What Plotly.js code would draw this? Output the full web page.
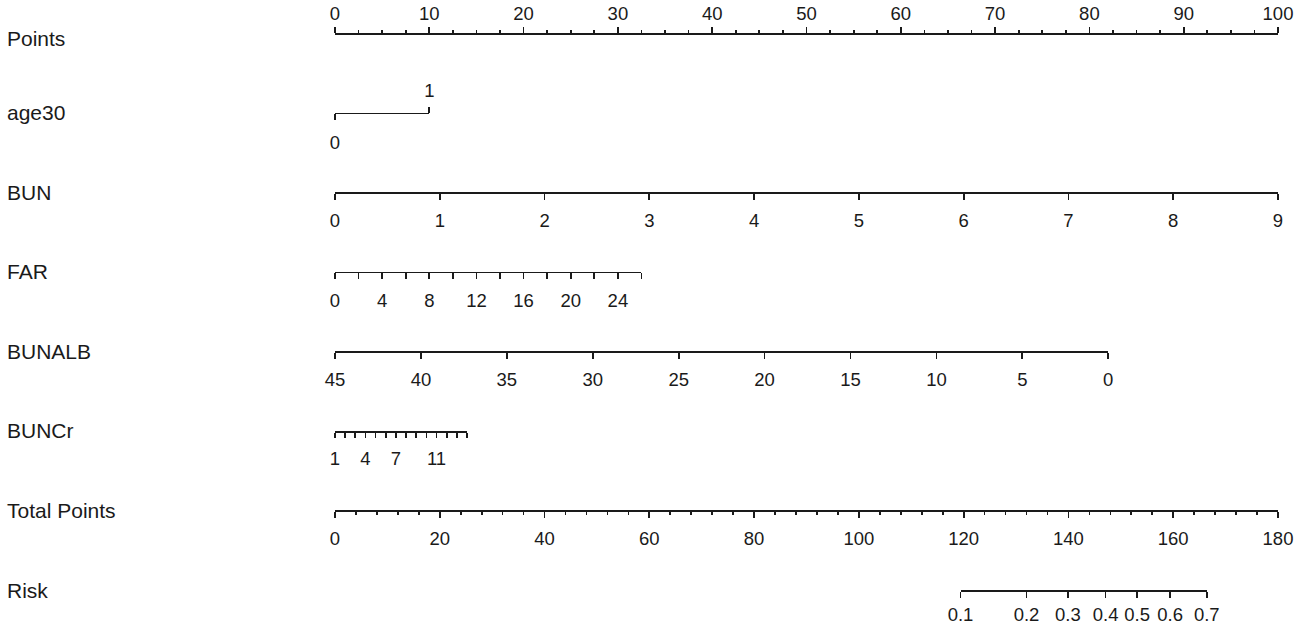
<!DOCTYPE html>
<html>
<head>
<meta charset="utf-8">
<script src="https://cdn.plot.ly/plotly-3.0.1.min.js"></script>
<style>
  html, body { margin: 0; padding: 0; background: #fff; }
  #chart { width: 1299px; height: 627px; }
</style>
</head>
<body>
<div id="chart"></div>
<script>
// row names of the nomogram
const rowNames = ['Points', 'age30', 'BUN', 'FAR', 'BUNALB', 'BUNCr', 'Total Points', 'Risk'];

// points scale
const pointTicks = [0, 10, 20, 30, 40, 50, 60, 70, 80, 90, 100];

// age30: 0 -> 0 points, 1 -> 10 points
const ageValues = [0, 1];
const agePoints = [0, 10];

// BUN 0..9 spans 0..100 points
const bunTicks = [0, 1, 2, 3, 4, 5, 6, 7, 8, 9];
const bunPoints = [0, 100];

// FAR 0..26 spans 0..32.5 points
const farTicks = [0, 2, 4, 6, 8, 10, 12, 14, 16, 18, 20, 22, 24, 26];
const farLabels = ['0', '', '4', '', '8', '', '12', '', '16', '', '20', '', '24', ''];
const farPoints = [0, 32.5];

// BUNALB 45..0 spans 0..82 points
const albTicks = [45, 40, 35, 30, 25, 20, 15, 10, 5, 0];
const albPoints = [0, 82];

// BUNCr 1..14 spans 0..14 points
const crTicks = [1, 2, 3, 4, 5, 6, 7, 8, 9, 10, 11, 12, 13, 14];
const crLabels = ['1', '', '', '4', '', '', '7', '', '', '', '11', '', '', ''];
const crPoints = [0, 14];

// total points 0..180
const totalTicks = [0, 20, 40, 60, 80, 100, 120, 140, 160, 180];

// risk labels and their place on the total points scale
const riskLabels = ['0.1', '0.2', '0.3', '0.4', '0.5', '0.6', '0.7'];
const riskTotals = [119.4, 132.0, 139.9, 147.1, 153.1, 159.4, 166.4];

const FONT = 'Liberation Sans, Arial, sans-serif';
const INK = '#1a1a1a';
const nRows = rowNames.length;
const rowPos = rowNames.map((_, i) => 1 - i / (nRows - 1));

function baseAxis(extra) {
    return Object.assign({
        anchor: 'free',
        showline: true,
        linecolor: INK,
        linewidth: 1.7,
        ticks: 'outside',
        tickcolor: INK,
        tickwidth: 1.7,
        ticklen: 6,
        showgrid: false,
        zeroline: false,
        tickangle: 0,
        fixedrange: true,
        tickfont: {family: FONT, size: 18.5, color: INK},
        ticklabelstandoff: 5
    }, extra);
}

const axes = [
    // Points
    baseAxis({
        side: 'top', position: rowPos[0], domain: [0, 1], range: [0, 100],
        tickmode: 'array', tickvals: pointTicks, ticktext: pointTicks.map(String),
        ticklabelstandoff: 0,
        minor: {dtick: 2.5, tick0: 0, ticks: 'outside', ticklen: 3, tickcolor: INK, tickwidth: 1.7}
    }),
    // age30 (bottom tick for 0)
    baseAxis({
        side: 'bottom', position: rowPos[1], domain: [agePoints[0] / 100, agePoints[1] / 100],
        range: [ageValues[0], ageValues[1]],
        tickmode: 'array', tickvals: [ageValues[0]], ticktext: [String(ageValues[0])],
        ticklabelstandoff: 7
    }),
    // age30 (top tick for 1)
    baseAxis({
        side: 'top', position: rowPos[1], domain: [agePoints[0] / 100, agePoints[1] / 100],
        range: [ageValues[0], ageValues[1]], showline: false,
        tickmode: 'array', tickvals: [ageValues[1]], ticktext: [String(ageValues[1])],
        ticklabelstandoff: 2
    }),
    // BUN
    baseAxis({
        side: 'bottom', position: rowPos[2], domain: [bunPoints[0] / 100, bunPoints[1] / 100],
        range: [bunTicks[0], bunTicks[bunTicks.length - 1]],
        tickmode: 'array', tickvals: bunTicks, ticktext: bunTicks.map(String)
    }),
    // FAR
    baseAxis({
        side: 'bottom', position: rowPos[3], domain: [farPoints[0] / 100, farPoints[1] / 100],
        range: [farTicks[0], farTicks[farTicks.length - 1]],
        tickmode: 'array', tickvals: farTicks, ticktext: farLabels
    }),
    // BUNALB
    baseAxis({
        side: 'bottom', position: rowPos[4], domain: [albPoints[0] / 100, albPoints[1] / 100],
        range: [albTicks[0], albTicks[albTicks.length - 1]],
        tickmode: 'array', tickvals: albTicks, ticktext: albTicks.map(String)
    }),
    // BUNCr
    baseAxis({
        side: 'bottom', position: rowPos[5], domain: [crPoints[0] / 100, crPoints[1] / 100],
        range: [crTicks[0], crTicks[crTicks.length - 1]],
        tickmode: 'array', tickvals: crTicks, ticktext: crLabels, ticklen: 5
    }),
    // Total Points
    baseAxis({
        side: 'bottom', position: rowPos[6], domain: [0, 1],
        range: [totalTicks[0], totalTicks[totalTicks.length - 1]],
        tickmode: 'array', tickvals: totalTicks, ticktext: totalTicks.map(String),
        minor: {dtick: 4, tick0: 0, ticks: 'outside', ticklen: 3, tickcolor: INK, tickwidth: 1.7}
    }),
    // Risk
    baseAxis({
        side: 'bottom', position: rowPos[7],
        domain: [riskTotals[0] / 180, riskTotals[riskTotals.length - 1] / 180],
        range: [riskTotals[0], riskTotals[riskTotals.length - 1]],
        tickmode: 'array', tickvals: riskTotals, ticktext: riskLabels,
        ticklabelstandoff: 1
    })
];

const layout = {
    width: 1299,
    height: 627,
    margin: {l: 335, r: 21, t: 32.5, b: 37},
    paper_bgcolor: '#fff',
    plot_bgcolor: 'rgba(0,0,0,0)',
    showlegend: false,
    yaxis: {range: [0, 1], visible: false, fixedrange: true},
    annotations: rowNames.map((name, i) => ({
        text: name,
        xref: 'paper', yref: 'paper',
        x: 0, y: rowPos[i],
        xshift: -330, yshift: i === 0 ? -5 : 0,
        xanchor: 'left', yanchor: 'middle',
        showarrow: false,
        font: {family: FONT, size: 21, color: INK}
    }))
};

const traces = [];
axes.forEach((ax, i) => {
    const key = i === 0 ? 'xaxis' : 'xaxis' + (i + 1);
    layout[key] = ax;
    traces.push({
        type: 'scatter', mode: 'markers',
        x: ax.range, y: [0.5, 0.5],
        xaxis: i === 0 ? 'x' : 'x' + (i + 1), yaxis: 'y',
        marker: {opacity: 0, size: 1},
        hoverinfo: 'skip', cliponaxis: false
    });
});

Plotly.newPlot('chart', traces, layout, {displayModeBar: false, staticPlot: true});
</script>
</body>
</html>
